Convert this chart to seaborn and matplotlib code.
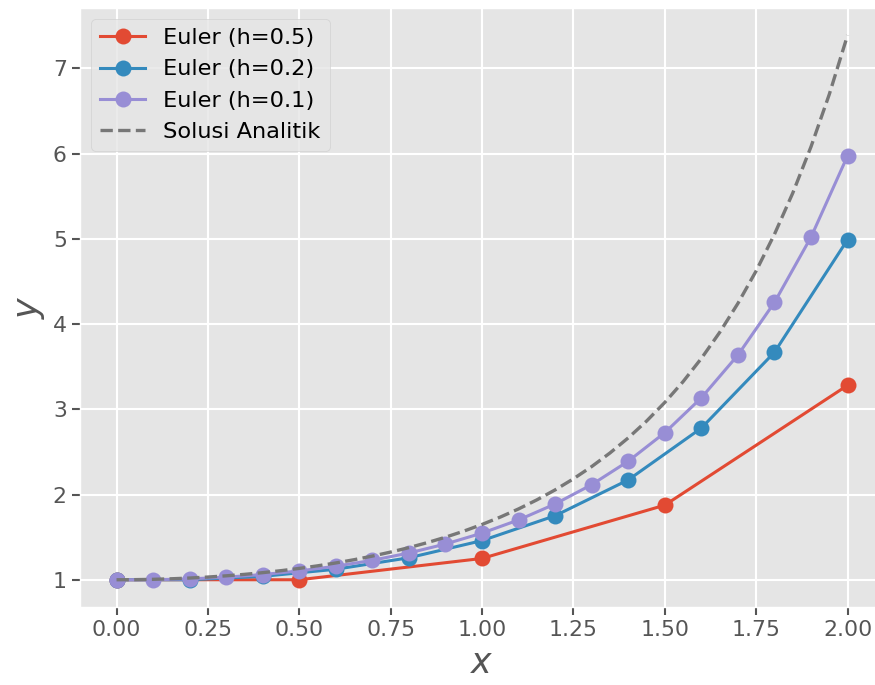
import matplotlib
matplotlib.use("Agg")
import matplotlib.pyplot as plt
import seaborn as sns
import pandas as pd

# Euler approximations of y' = x*y, y(0) = 1
x_h05 = [0.0, 0.5, 1.0, 1.5, 2.0]
y_h05 = [1.0, 1.0, 1.25, 1.875, 3.28125]

x_h02 = [0.0, 0.2, 0.4, 0.6, 0.8, 1.0, 1.2, 1.4, 1.6, 1.8, 2.0]
y_h02 = [1.0, 1.0, 1.04, 1.1232, 1.257984, 1.459261, 1.751113,
         2.171381, 2.779368, 3.668766, 4.989521]

x_h01 = [0.0, 0.1, 0.2, 0.3, 0.4, 0.5, 0.6, 0.7, 0.8, 0.9, 1.0,
         1.1, 1.2, 1.3, 1.4, 1.5, 1.6, 1.7, 1.8, 1.9, 2.0]
y_h01 = [1.0, 1.0, 1.01, 1.0302, 1.061106, 1.10355, 1.158728, 1.228251,
         1.314229, 1.419367, 1.54711, 1.701821, 1.889022, 2.115704,
         2.390746, 2.72545, 3.134268, 3.635751, 4.253829, 5.019518, 5.973226]

# Analytic solution y = exp(x^2 / 2), tabulated
x_exact = [0.0, 0.05, 0.1, 0.15, 0.2, 0.25, 0.3, 0.35, 0.4, 0.45, 0.5,
           0.55, 0.6, 0.65, 0.7, 0.75, 0.8, 0.85, 0.9, 0.95, 1.0,
           1.05, 1.1, 1.15, 1.2, 1.25, 1.3, 1.35, 1.4, 1.45, 1.5,
           1.55, 1.6, 1.65, 1.7, 1.75, 1.8, 1.85, 1.9, 1.95, 2.0]
y_exact = [1.0, 1.00125, 1.00501, 1.01131, 1.0202, 1.03174, 1.04603, 1.06317,
           1.08329, 1.10655, 1.13315, 1.16329, 1.19722, 1.23522, 1.27762,
           1.32478, 1.37713, 1.43512, 1.49930, 1.57027, 1.64872,
           1.73542, 1.83125, 1.93721, 2.05443, 2.18420, 2.32798, 2.48743,
           2.66446, 2.86122, 3.08022, 3.32427, 3.59664, 3.90106, 4.24185,
           4.62394, 5.05309, 5.53587, 6.07997, 6.69425, 7.38906]

plt.style.use("ggplot")
plt.rcParams["font.family"] = ["DejaVu Sans"]

fig = plt.figure(figsize=(8.75, 6.85), dpi=100)
ax = fig.add_axes([0.0914, 0.1139, 0.919, 0.8745])

series = [
    ("Euler (h=0.5)", x_h05, y_h05, "#E24A33"),
    ("Euler (h=0.2)", x_h02, y_h02, "#348ABD"),
    ("Euler (h=0.1)", x_h01, y_h01, "#988ED5"),
]
for label, xs, ys, col in series:
    df = pd.DataFrame({"x": xs, "y": ys})
    sns.lineplot(data=df, x="x", y="y", ax=ax, color=col, marker="o",
                 markersize=11.5, markeredgewidth=0, linewidth=2.2,
                 label=label)

df_exact = pd.DataFrame({"x": x_exact, "y": y_exact})
sns.lineplot(data=df_exact, x="x", y="y", ax=ax, color="#777777",
             linestyle="--", linewidth=2.4, label="Solusi Analitik")

ax.set_xticks([0.0, 0.25, 0.5, 0.75, 1.0, 1.25, 1.5, 1.75, 2.0])
ax.set_xticklabels(["0.00", "0.25", "0.50", "0.75", "1.00", "1.25",
                    "1.50", "1.75", "2.00"])
ax.tick_params(labelsize=15.8, colors="#555555", length=6, width=1.5)
ax.set_xlabel("$x$", fontsize=25, color="#555555")
ax.set_ylabel("$y$", fontsize=25, color="#555555")
ax.grid(True, color="white", linewidth=1.5)

ax.legend(loc="upper left", fontsize=16.2)

fig.savefig("out.png", dpi=100)
